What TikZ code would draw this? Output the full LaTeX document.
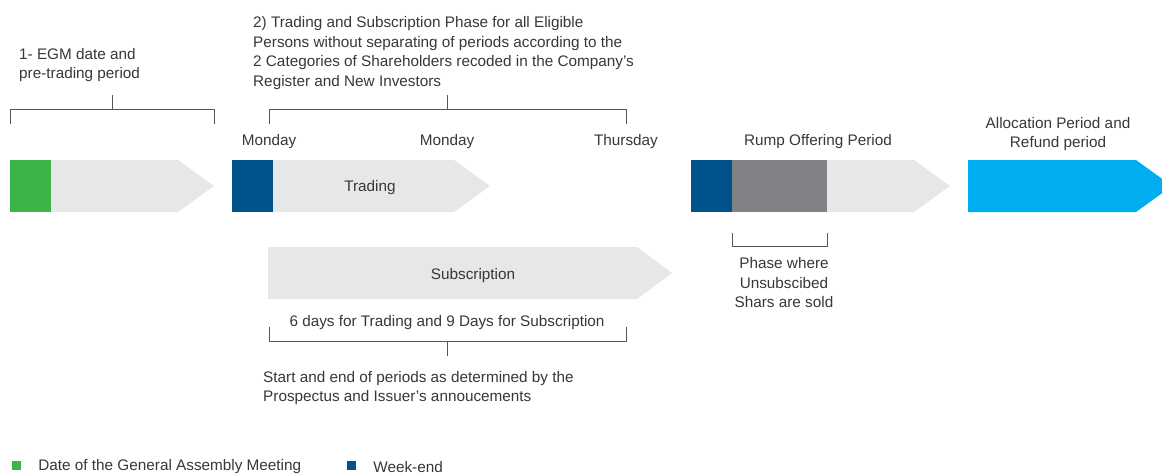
\documentclass[tikz,border=0pt]{standalone}
\usepackage{fontspec}
\setmainfont{Liberation Sans}
\usetikzlibrary{positioning}
\definecolor{egm_green}{RGB}{59,181,74}
\definecolor{weekend_blue}{RGB}{0,83,138}
\definecolor{bar_gray}{RGB}{230,231,232}
\definecolor{rump_gray}{RGB}{128,130,133}
\definecolor{alloc_cyan}{RGB}{0,174,239}
\definecolor{text_gray}{RGB}{55,55,55}
\definecolor{line_gray}{RGB}{85,85,85}

\begin{document}
\begin{tikzpicture}[x=1pt,y=-1pt,font=\fontsize{15.3}{19.5}\selectfont]
    \tikzstyle{label}=[text=text_gray, inner sep=0pt]
    \tikzstyle{block}=[label, align=left, anchor=west]
    \tikzstyle{brace}=[draw=line_gray, line width=0.9pt]
    \tikzstyle{key}=[minimum size=9pt, inner sep=0pt]
    \useasboundingbox (0,0) rectangle (1162,474);

    % phase bars
    \fill[bar_gray] (10,160) -- (178,160) -- (214,186) -- (178,212) -- (10,212) -- cycle;
    \fill[egm_green] (10,160) rectangle (51,212);
    \fill[bar_gray] (232,160) -- (454,160) -- (490,186) -- (454,212) -- (232,212) -- cycle;
    \fill[weekend_blue] (232,160) rectangle (273,212);
    \fill[bar_gray] (268,247) -- (637,247) -- (672,273) -- (637,299) -- (268,299) -- cycle;
    \fill[bar_gray] (691,160) -- (914,160) -- (950,186) -- (914,212) -- (691,212) -- cycle;
    \fill[weekend_blue] (691,160) rectangle (732,212);
    \fill[rump_gray] (732,160) rectangle (827,212);
    \fill[alloc_cyan] (968,160) -- (1136,160) -- (1172,186) -- (1136,212) -- (968,212) -- cycle;

    % texts
    \node[block] (egm) at (19,65) {1- EGM date and\\pre-trading period};
    \node[block] (phase2) at (253,53) {2) Trading and Subscription Phase for all Eligible\\Persons without separating of periods according to the\\2 Categories of Shareholders recoded in the Company's\\Register and New Investors};
    \node[label] (mon1) at (269,142) {Monday};
    \node[label] (mon2) at (447,142) {Monday};
    \node[label] (thu)  at (626,142) {Thursday};
    \node[label] (trad) at (370,188) {Trading};
    \node[label] (subs) at (473,276) {Subscription};
    \node[label] (days) at (447,323) {6 days for Trading and 9 Days for Subscription};
    \node[block] (start) at (263,388) {Start and end of periods as determined by the\\Prospectus and Issuer's annoucements};
    \node[label] (rump) at (818,142) {Rump Offering Period};
    \node[label, align=center] (unsub) at (784,283) {Phase where\\Unsubscibed\\Shars are sold};
    \node[label, align=center] (alloc) at (1058,134) {Allocation Period and\\Refund period};

    % brackets
    \draw[brace] (10,124) -- (10,109) -- (214,109) -- (214,124);
    \draw[brace] (112,109) -- (112,95);
    \draw[brace] (269,124) -- (269,109) -- (626,109) -- (626,124);
    \draw[brace] (447,109) -- (447,95);
    \draw[brace] (269,327) -- (269,341) -- (626,341) -- (626,327);
    \draw[brace] (447,341) -- (447,356);
    \draw[brace] (732,233) -- (732,246) -- (827,246) -- (827,233);

    % legend
    \node[key, fill=egm_green] (k_egm) at (16.5,465.5) {};
    \node[label, right=17pt of k_egm, yshift=-1.5pt] (l_egm) {Date of the General Assembly Meeting};
    \node[key, fill=weekend_blue] (k_wknd) at (351.5,465.5) {};
    \node[label, right=17pt of k_wknd, yshift=-1.5pt] (l_wknd) {Week-end};
\end{tikzpicture}
\end{document}
